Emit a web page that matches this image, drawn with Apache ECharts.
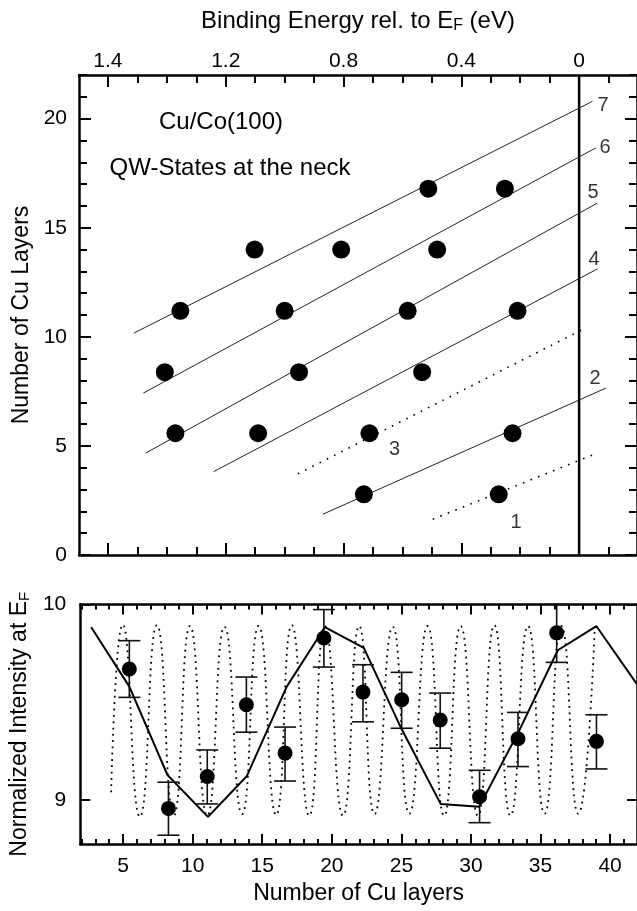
<!DOCTYPE html>
<html>
<head>
<meta charset="utf-8">
<script src="https://cdn.jsdelivr.net/npm/echarts@6/dist/echarts.min.js"></script>
<style>
html, body { margin: 0; padding: 0; background: #fff; }
#chart { width: 637px; height: 911px; }
</style>
</head>
<body>
<div id="chart"></div>
<script>
// ---- top panel: QW states (binding energy vs. Cu layers) ----
const stateEnergy = [1.102, 0.808, 0.482, 0.512, 0.252, 1.354, 1.0, 0.582, 0.209,
                     1.407, 0.951, 0.533, 1.371, 1.09, 0.712, 0.226, 0.731, 0.273];
const stateLayers = [14, 14, 14, 16.79, 16.79, 11.19, 11.19, 11.19, 11.19,
                     8.38, 8.38, 8.38, 5.58, 5.58, 5.58, 5.58, 2.78, 2.78];

// guide lines 1..7, start/end points
const guideNames  = ['1', '2', '3', '4', '5', '6', '7'];
const guideE      = [[0.497, -0.047], [0.870, -0.091], [0.955, -0.014], [1.241, -0.062],
                     [1.472, -0.062], [1.480, -0.057], [1.512, -0.045]];
const guideN      = [[1.64, 4.59], [1.87, 7.65], [3.72, 10.35], [3.82, 13.11],
                     [4.67, 16.13], [7.42, 18.66], [10.17, 20.79]];
const guideDotted = [true, false, true, false, false, false, false];

// where the numbers 1..7 sit
const guideLabelText = ['7', '6', '5', '4', '2', '3', '1'];
const guideLabelE    = [-0.081, -0.088, -0.047, -0.051, -0.054, 0.627, 0.214];
const guideLabelN    = [20.6, 18.67, 16.6, 13.53, 8.07, 4.82, 1.47];

const energyTickValues = [1.6, 1.2, 0.8, 0.4, 0];
const energyTickLabels = ['1.4', '1.2', '0.8', '0.4', '0'];
const layerTickValues  = [0, 5, 10, 15, 20];

// ---- bottom panel: intensity at EF ----
const sampleLayers    = [5.45, 8.26, 11.05, 13.86, 16.64, 19.43, 22.24, 25.02, 27.79, 30.62, 33.38, 36.16, 39.02];
const sampleIntensity = [9.67, 8.957, 9.12, 9.487, 9.24, 9.829, 9.552, 9.513, 9.409, 9.017, 9.313, 9.855, 9.30];
const errLow          = [9.525, 8.82, 8.98, 9.347, 9.097, 9.68, 9.40, 9.367, 9.265, 8.884, 9.171, 9.704, 9.159];
const errHigh         = [9.815, 9.091, 9.256, 9.629, 9.373, 9.974, 9.692, 9.653, 9.547, 9.152, 9.448, 10.0, 9.436];

const modelLayers    = [2.71, 5.45, 8.19, 11.1, 13.9, 16.76, 19.5, 22.3, 24.98, 27.83, 30.6, 33.43, 36.24, 39.02, 42];
const modelIntensity = [9.884, 9.58, 9.128, 8.914, 9.123, 9.58, 9.884, 9.778, 9.368, 8.979, 8.966, 9.35, 9.766, 9.889, 9.585];

// short-period oscillation, peaks and troughs
const oscLayers    = [4.14, 4.98, 6.21, 7.43, 8.64, 9.81, 11.05, 12.29, 13.55, 14.74, 16.0, 17.12, 18.38, 19.5,
                      20.8, 21.97, 23.07, 24.38, 25.57, 26.88, 28.07, 29.26, 30.5, 31.68, 32.84, 34.1, 35.29,
                      36.5, 37.71, 38.9];
const oscIntensity = [9.04, 9.897, 8.914, 9.894, 8.92, 9.89, 8.92, 9.886, 8.928, 9.89, 8.923, 9.894, 8.92, 9.89,
                      8.92, 9.89, 8.928, 9.886, 8.93, 9.89, 8.92, 9.89, 8.92, 9.894, 8.92, 9.89, 8.93,
                      9.89, 8.93, 9.886];

const cuLayerTicks = [5, 10, 15, 20, 25, 30, 35, 40];
const intensityTicks = [9, 10];

const FONT = 'Liberation Sans';

let energyMinor = [];
for (let i = -1; i <= 16; i++) energyMinor.push(i / 10);
let layerMinor = [];
for (let i = 0; i <= 22; i++) layerMinor.push(i);
let cuMinor = [];
for (let i = 2; i <= 41; i++) cuMinor.push(i);

function tickAxis(opt) {
    // one axis = one set of ticks; several of them are stacked on each side
    let a = {
        type: 'value',
        gridIndex: opt.grid,
        position: opt.pos,
        min: opt.min,
        max: opt.max,
        inverse: !!opt.inverse,
        splitLine: { show: false },
        axisLine: { show: !!opt.line, onZero: false, lineStyle: { color: '#000', width: 2.5 } },
        axisTick: {
            show: true, inside: true, length: opt.len,
            customValues: opt.ticks,
            lineStyle: { color: '#000', width: 2 }
        },
        axisLabel: { show: false }
    };
    if (opt.labels) {
        a.axisLabel = {
            show: true,
            customValues: opt.labelValues || opt.ticks,
            color: '#000',
            fontFamily: FONT,
            fontSize: 21,
            margin: opt.margin,
            formatter: opt.formatter
        };
    }
    return a;
}

let eMin = -0.1966, eMax = 1.6983;
let cuMin = 1.922, cuMax = 41.933;
let iMin = 8.775, iMax = 10;

let xAxes = [
    tickAxis({ grid: 0, pos: 'top', min: eMin, max: eMax, inverse: true, line: true, len: 12,
        ticks: energyTickValues, labels: true, margin: 3,
        formatter: function (v) {
            let i = energyTickValues.findIndex(t => Math.abs(t - v) < 1e-6);
            return i >= 0 ? energyTickLabels[i] : '';
        } }),
    tickAxis({ grid: 0, pos: 'top', min: eMin, max: eMax, inverse: true, len: 8, ticks: energyMinor }),
    tickAxis({ grid: 0, pos: 'bottom', min: eMin, max: eMax, inverse: true, line: true, len: 12, ticks: energyTickValues }),
    tickAxis({ grid: 0, pos: 'bottom', min: eMin, max: eMax, inverse: true, len: 8, ticks: energyMinor }),
    tickAxis({ grid: 1, pos: 'bottom', min: cuMin, max: cuMax, line: true, len: 10,
        ticks: cuLayerTicks, labels: true, margin: 12 }),
    tickAxis({ grid: 1, pos: 'bottom', min: cuMin, max: cuMax, len: 5, ticks: cuMinor }),
    tickAxis({ grid: 1, pos: 'top', min: cuMin, max: cuMax, line: true, len: 10, ticks: cuLayerTicks }),
    tickAxis({ grid: 1, pos: 'top', min: cuMin, max: cuMax, len: 5, ticks: cuMinor })
];
Object.assign(xAxes[0], {
    name: 'Binding Energy rel. to E{sub|F} (eV)',
    nameLocation: 'middle',
    nameGap: 41,
    nameTextStyle: { color: '#000', fontFamily: FONT, fontSize: 24,
        rich: { sub: { fontFamily: FONT, fontSize: 16, padding: [10, 0, 0, 0] } } }
});
Object.assign(xAxes[4], {
    name: 'Number of Cu layers',
    nameLocation: 'middle',
    nameGap: 38,
    nameTextStyle: { color: '#000', fontFamily: FONT, fontSize: 23 }
});

let yAxes = [
    tickAxis({ grid: 0, pos: 'left', min: 0, max: 22, line: true, len: 12,
        ticks: layerTickValues, labels: true, margin: 12 }),
    tickAxis({ grid: 0, pos: 'left', min: 0, max: 22, len: 8, ticks: layerMinor }),
    tickAxis({ grid: 0, pos: 'right', min: 0, max: 22, line: true, len: 12, ticks: layerTickValues }),
    tickAxis({ grid: 0, pos: 'right', min: 0, max: 22, len: 8, ticks: layerMinor }),
    tickAxis({ grid: 1, pos: 'left', min: iMin, max: iMax, line: true, len: 10,
        ticks: intensityTicks, labels: true, margin: 14 }),
    tickAxis({ grid: 1, pos: 'right', min: iMin, max: iMax, line: true, len: 10, ticks: intensityTicks })
];
Object.assign(yAxes[0], {
    name: 'Number of Cu Layers',
    nameLocation: 'middle',
    nameGap: 46,
    nameTextStyle: { color: '#000', fontFamily: FONT, fontSize: 23 }
});
Object.assign(yAxes[4], {
    name: 'Normalized Intensity at E{sub|F}',
    nameLocation: 'middle',
    nameGap: 38,
    nameTextStyle: { color: '#000', fontFamily: FONT, fontSize: 23,
        rich: { sub: { fontFamily: FONT, fontSize: 15, padding: [10, 0, 0, 0] } } }
});

let series = [];

guideNames.forEach((name, i) => {
    series.push({
        name: 'line ' + name,
        type: 'line',
        xAxisIndex: 0, yAxisIndex: 0,
        data: [[guideE[i][0], guideN[i][0]], [guideE[i][1], guideN[i][1]]],
        symbol: 'none',
        silent: true,
        lineStyle: guideDotted[i]
            ? { color: '#000', width: 1.6, type: [1.6, 6.5] }
            : { color: '#222', width: 1 }
    });
});

// E = EF
series.push({
    type: 'line', xAxisIndex: 0, yAxisIndex: 0,
    data: [[0, 0], [0, 22]],
    symbol: 'none', silent: true,
    lineStyle: { color: '#000', width: 2.5 }
});

series.push({
    type: 'scatter', xAxisIndex: 0, yAxisIndex: 0,
    data: stateEnergy.map((e, i) => [e, stateLayers[i]]),
    symbolSize: 18,
    itemStyle: { color: '#000', opacity: 1 },
    z: 5
});

series.push({
    type: 'scatter', xAxisIndex: 0, yAxisIndex: 0,
    data: guideLabelE.map((e, i) => [e, guideLabelN[i], guideLabelText[i]]),
    symbolSize: 1,
    itemStyle: { color: 'rgba(0,0,0,0)' },
    label: {
        show: true, position: 'inside',
        formatter: p => p.value[2],
        color: '#000', fontFamily: FONT, fontSize: 20
    },
    silent: true
});

// bottom panel
series.push({
    type: 'line', xAxisIndex: 4, yAxisIndex: 4,
    data: oscLayers.map((x, i) => [x, oscIntensity[i]]),
    smooth: 0.55,
    symbol: 'none', silent: true,
    lineStyle: { color: '#000', width: 1.8, type: [1.8, 4.5] }
});

series.push({
    type: 'line', xAxisIndex: 4, yAxisIndex: 4,
    data: modelLayers.map((x, i) => [x, modelIntensity[i]]),
    symbol: 'none', silent: true,
    lineStyle: { color: '#000', width: 2 },
    z: 3
});

series.push({
    type: 'custom', xAxisIndex: 4, yAxisIndex: 4,
    data: sampleLayers.map((x, i) => [x, errLow[i], errHigh[i]]),
    encode: { x: 0, y: [1, 2] },
    silent: true,
    z: 4,
    renderItem: function (params, api) {
        let top = api.coord([api.value(0), api.value(2)]);
        let bot = api.coord([api.value(0), api.value(1)]);
        let w = 11;
        let st = { stroke: '#111', lineWidth: 1.6 };
        return {
            type: 'group',
            children: [
                { type: 'line', shape: { x1: top[0], y1: top[1], x2: bot[0], y2: bot[1] }, style: st },
                { type: 'line', shape: { x1: top[0] - w, y1: top[1], x2: top[0] + w, y2: top[1] }, style: st },
                { type: 'line', shape: { x1: bot[0] - w, y1: bot[1], x2: bot[0] + w, y2: bot[1] }, style: st }
            ]
        };
    }
});

series.push({
    type: 'scatter', xAxisIndex: 4, yAxisIndex: 4,
    data: sampleLayers.map((x, i) => [x, sampleIntensity[i]]),
    symbolSize: 15,
    itemStyle: { color: '#000', opacity: 1 },
    z: 5
});

let option = {
    animation: false,
    backgroundColor: '#fff',
    textStyle: { fontFamily: FONT },
    grid: [
        { left: 79, top: 75, width: 559, height: 480 },
        { left: 79, top: 604.5, width: 559, height: 239.5 }
    ],
    xAxis: xAxes,
    yAxis: yAxes,
    graphic: [
        { type: 'text', x: 221, y: 122, silent: true,
          style: { text: 'Cu/Co(100)', textAlign: 'center', textVerticalAlign: 'middle',
                   font: '24px "Liberation Sans"', fill: '#000' } },
        { type: 'text', x: 230, y: 168, silent: true,
          style: { text: 'QW-States at the neck', textAlign: 'center', textVerticalAlign: 'middle',
                   font: '24px "Liberation Sans"', fill: '#000' } }
    ],
    series: series
};

let myChart = echarts.init(document.getElementById('chart'), null, { renderer: 'canvas' });
myChart.setOption(option);
</script>
</body>
</html>
